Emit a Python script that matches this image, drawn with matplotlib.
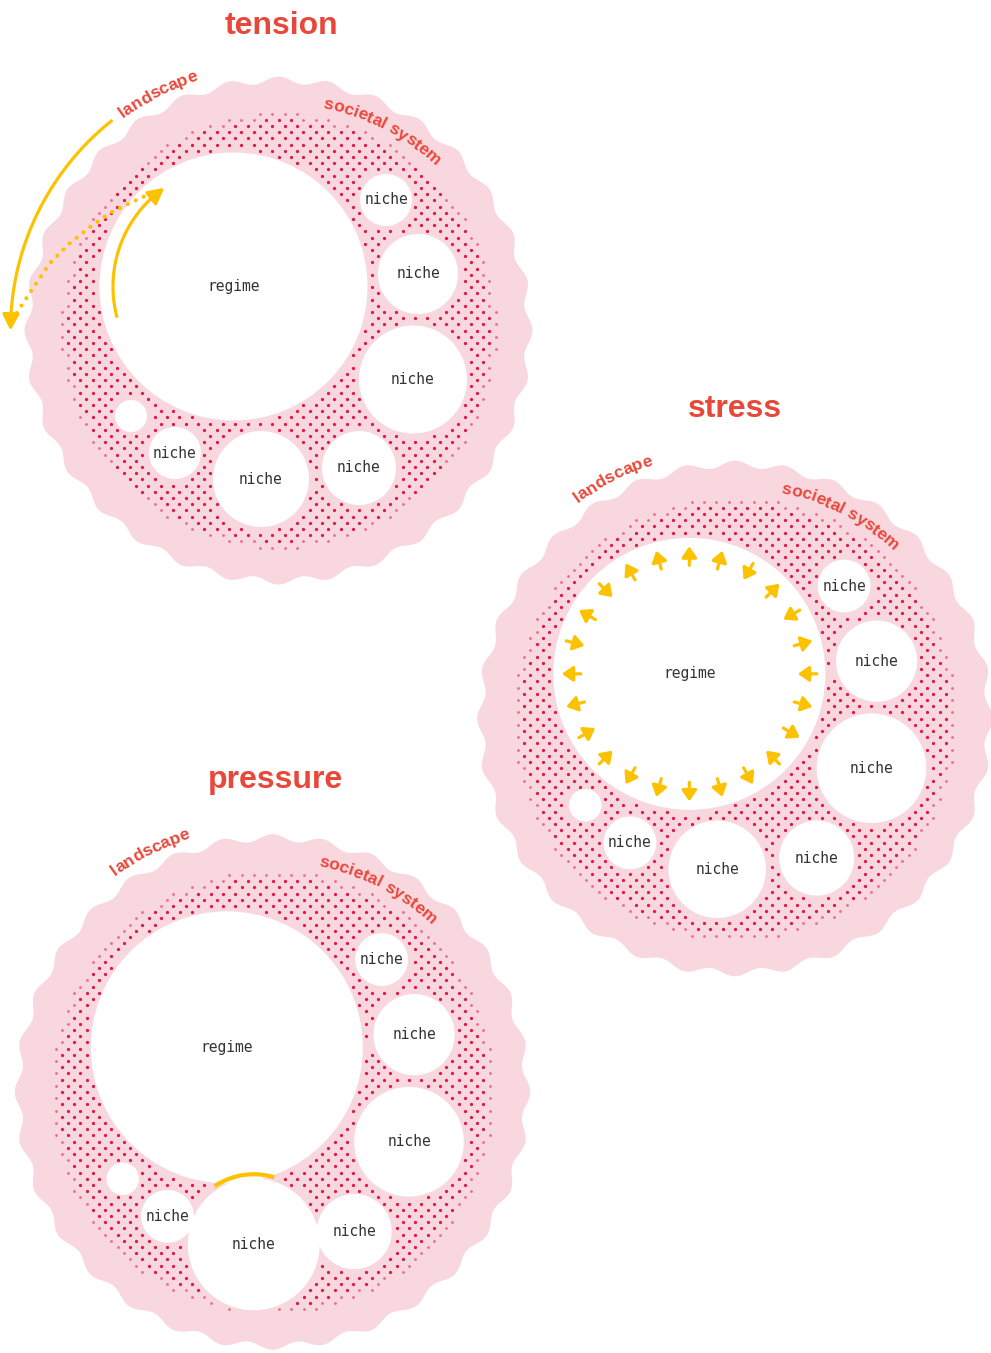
import numpy as np
import matplotlib
matplotlib.use("Agg")
import matplotlib.pyplot as plt
from matplotlib.patches import Polygon, Circle, FancyArrowPatch
from matplotlib.font_manager import FontProperties, findfont, get_font

# ---------------- data ----------------
diagrams = ["tension", "stress", "pressure"]
center_x = [278.5, 735.0, 272.5]
center_y = [330.5, 718.5, 1092.0]
scale = [1.0, 1.015, 1.015]
title_x = [281, 735, 276]
title_base_y = [34, 417, 788]

regime_label = "regime"
regime_dx, regime_dy, regime_r = -45.0, -44.0, 134.0

niche_label = "niche"
niche_dx = [107.5, 139.5, 134.5, 80.5, -17.5, -103.5, -147.5]
niche_dy = [-130.5, -56.5, 49.0, 137.5, 148.5, 122.5, 85.5]
niche_r = [26, 40, 54, 37, 48, 26, 16]
niche_has_label = [True, True, True, True, True, True, False]
# pressure: the bottom niche has grown
pressure_big_niche = (-18.5, 150.0, 65.0)

landscape_label = "landscape"
system_label = "societal system"

# stress: arrows around the regime, clockwise from top (1 = outward, -1 = inward)
stress_arrow_dirs = [1, 1, -1, 1, -1, 1, -1, 1, 1, -1, 1, 1,
                     1, 1, 1, -1, -1, 1, 1, -1, 1, -1, 1, 1]

# tension: dotted link between the two arcs (pixel points)
tension_dotted_x = [16.7, 31.7, 50, 70, 90, 110, 130, 152]
tension_dotted_y = [313, 290, 263, 243, 227, 213, 203, 193]

# ---------------- style ----------------
W, H = 991, 1353
PINK = "#F8D7DF"
DOT = "#E0184A"
RED = "#E8483A"
YELLOW = "#FCC200"
INK = "#333333"
PX_PER_PT = 100 / 72.0

fig = plt.figure(figsize=(W / 100, H / 100), dpi=100)
ax = fig.add_axes([0, 0, 1, 1])
ax.set_xlim(0, W)
ax.set_ylim(H, 0)
ax.axis("off")

label_prop = FontProperties(family="Liberation Sans", weight="bold", size=12.5)


def arc_text(s, cx, cy, r, center_deg, prop, color):
    font = get_font(findfont(prop))
    font.set_size(prop.get_size_in_points(), 72)
    advs = []
    for ch in s:
        g = font.load_char(ord(ch))
        advs.append(g.linearHoriAdvance / 65536.0 * PX_PER_PT)
    total = sum(advs)
    cum = 0.0
    for ch, a in zip(s, advs):
        off = cum + a / 2 - total / 2
        cum += a
        th = np.radians(center_deg) + off / r
        x = cx + r * np.sin(th)
        y = cy - r * np.cos(th)
        ax.text(x, y, ch, fontproperties=prop, color=color, ha="center",
                va="baseline", rotation=-np.degrees(th), rotation_mode="anchor",
                zorder=6)


def pt_on(cx, cy, r, deg):
    th = np.radians(deg)
    return cx + r * np.sin(th), cy - r * np.cos(th)


def arc_arrow(cx, cy, r, d0, d1, lw=2.3, ms=12):
    n = 80
    head_deg = np.degrees(11.0 / r) * np.sign(d1 - d0)
    ang2 = np.linspace(d0, d1 - head_deg, n)
    xs2, ys2 = pt_on(cx, cy, r, ang2)
    ax.plot(xs2, ys2, color=YELLOW, lw=lw, solid_capstyle="butt", zorder=7)
    tail = pt_on(cx, cy, r, d1 - head_deg * 1.3)
    tip = pt_on(cx, cy, r, d1)
    ax.add_patch(FancyArrowPatch(tail, tip,
                                 arrowstyle="-|>,head_length=0.8,head_width=0.42",
                                 mutation_scale=ms, color=YELLOW, lw=lw,
                                 shrinkA=0, shrinkB=0, zorder=7))


for k, name in enumerate(diagrams):
    cx, cy, sc = center_x[k], center_y[k], scale[k]

    # wavy landscape
    th = np.linspace(0, 2 * np.pi, 2400)
    R = (250.5 + 3.5 * np.cos(32 * th)) * sc
    ax.add_patch(Polygon(np.c_[cx + R * np.sin(th), cy - R * np.cos(th)],
                         closed=True, fc=PINK, ec="none", zorder=1))

    # white circles
    circles = [(cx + regime_dx * sc, cy + regime_dy * sc, regime_r * sc, regime_label)]
    for i in range(len(niche_r)):
        dx, dy, r = niche_dx[i], niche_dy[i], niche_r[i]
        if name == "pressure" and i == 4:
            dx, dy, r = pressure_big_niche
        circles.append((cx + dx * sc, cy + dy * sc, r * sc,
                        niche_label if niche_has_label[i] else ""))

    # dot field (halftone)
    s = 6.2
    ii, jj = np.meshgrid(np.arange(-40, 41), np.arange(-40, 41))
    mask = ((ii + jj) % 2 == 0)
    px = (ii[mask] * s).astype(float)
    py = (jj[mask] * s).astype(float)
    rr = np.hypot(px, py)
    Rd = 219 * sc
    keep = rr < Rd
    px, py, rr = px[keep], py[keep], rr[keep]
    gx, gy = cx + px, cy + py
    ok = np.ones_like(gx, dtype=bool)
    for (ccx, ccy, cr, _) in circles:
        ok &= np.hypot(gx - ccx, gy - ccy) > cr + 3.0
    gx, gy, rr = gx[ok], gy[ok], rr[ok]
    inner = rr < Rd - 7
    ax.scatter(gx[inner], gy[inner], s=5.5, c=DOT, linewidths=0, zorder=2)
    ax.scatter(gx[~inner], gy[~inner], s=4.2, c=DOT, alpha=0.55, linewidths=0, zorder=2)

    for (ccx, ccy, cr, lab) in circles:
        ax.add_patch(Circle((ccx, ccy), cr, fc="white", ec="none", zorder=3))
        if lab:
            ax.text(ccx, ccy, lab, family="DejaVu Sans Mono", fontsize=10.5,
                    color=INK, ha="center", va="center", zorder=5)

    # title
    ax.text(title_x[k], title_base_y[k], name, family="Liberation Sans",
            weight="bold", fontsize=23, color=RED, ha="center", va="baseline",
            zorder=6)

    # curved labels
    arc_text(landscape_label, cx, cy, 263 * sc, -27.0, label_prop, RED)
    arc_text(system_label, cx, cy, 227 * sc, 27.5, label_prop, RED)

    rcx, rcy = circles[0][0], circles[0][1]

    if name == "tension":
        arc_arrow(cx, cy, 268, -38.3, -90.0)
        arc_arrow(rcx, rcy, 120.5, -105.0, -35.0)
        ax.plot(tension_dotted_x, tension_dotted_y, color=YELLOW, lw=3.0,
                linestyle=(0, (0.01, 2.1)), dash_capstyle="round", zorder=7)

    if name == "stress":
        n = len(stress_arrow_dirs)
        for i, d in enumerate(stress_arrow_dirs):
            deg = i * 360.0 / n
            a = pt_on(rcx, rcy, 118 - 9.5 * d, deg)
            b = pt_on(rcx, rcy, 118 + 9.5 * d, deg)
            ax.add_patch(FancyArrowPatch(a, b,
                                         arrowstyle="-|>,head_length=0.65,head_width=0.45",
                                         mutation_scale=10, color=YELLOW, lw=2.3,
                                         shrinkA=0, shrinkB=0, zorder=7))

    if name == "pressure":
        bx, by, br = circles[5][0], circles[5][1], circles[5][2]
        ang = np.linspace(-34, 17, 60)
        xs, ys = pt_on(bx, by, br + 4, ang)
        ax.plot(xs, ys, color=YELLOW, lw=3.0, solid_capstyle="butt", zorder=7)

fig.savefig("out.png", dpi=100, facecolor="white")
